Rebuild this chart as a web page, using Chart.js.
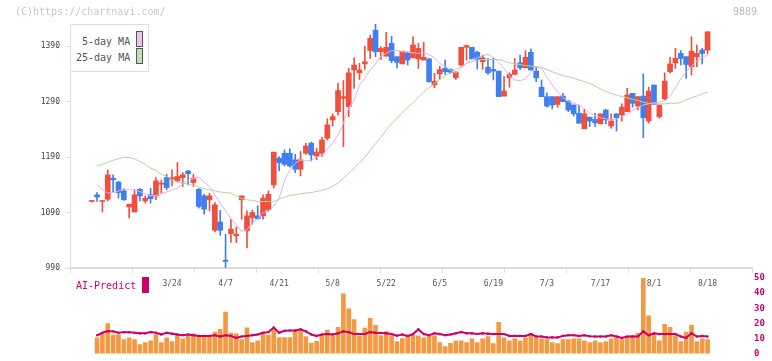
<!DOCTYPE html>
<html><head><meta charset="utf-8">
<script src="https://cdn.jsdelivr.net/npm/chart.js@4.4.1/dist/chart.umd.min.js"></script>
<style>
html,body{margin:0;padding:0;background:#fff;width:772px;height:361px;overflow:hidden;}
body{position:relative;font-family:'DejaVu Sans Mono',monospace;}
canvas{position:absolute;left:0;}
#main{top:0;}
#vol{top:270px;}
.t{position:absolute;white-space:nowrap;line-height:10px;font-size:10px;}
.sw{position:absolute;width:5px;height:14px;border:1px solid #555;}
</style></head><body>
<canvas id="vol" width="772" height="91"></canvas>
<canvas id="main" width="772" height="300"></canvas>
<div class="t" style="left:15px;top:7px;color:#c8c8c8">(C)https://chartnavi.com/</div>
<div class="t" style="left:733px;top:7px;color:#bbb">9889</div>
<div style="position:absolute;left:70px;top:24px;width:77px;height:46px;border:1px solid #ddd;background:#fff"></div>
<div class="t" style="left:82px;top:37px;color:#555">5-day MA</div>
<div class="sw" style="left:136px;top:31px;background:#f0c0f0"></div>
<div class="t" style="left:76px;top:53px;color:#555">25-day MA</div>
<div class="sw" style="left:136px;top:48px;background:#c0e0b0"></div>
<div class="t" style="left:76px;top:281px;color:#cc0066;font-size:10px">AI-Predict</div>
<div style="position:absolute;left:142px;top:277px;width:7px;height:16px;background:#cc0066"></div>
<script>
const dates = ['2/28','3/3','3/4','3/5','3/6','3/7','3/10','3/11','3/12','3/13','3/14','3/17','3/18','3/19','3/21',
'3/24','3/25','3/26','3/27','3/28','3/31','4/1','4/2','4/3','4/4','4/7','4/8','4/9','4/10','4/11','4/14','4/15','4/16','4/17','4/18',
'4/21','4/22','4/23','4/24','4/25','4/28','4/30','5/1','5/2','5/7','5/8','5/9','5/12','5/13','5/14','5/15','5/16','5/19','5/20','5/21',
'5/22','5/23','5/26','5/27','5/28','5/29','5/30','6/2','6/3','6/4','6/5','6/6','6/9','6/10','6/11','6/12','6/13','6/16','6/17','6/18',
'6/19','6/20','6/23','6/24','6/25','6/26','6/27','6/30','7/1','7/2','7/3','7/4','7/7','7/8','7/9','7/10','7/11','7/14','7/15','7/16',
'7/17','7/18','7/22','7/23','7/24','7/25','7/28','7/29','7/30','7/31','8/1','8/4','8/5','8/6','8/7','8/8','8/12','8/13','8/14','8/15','8/18'];

const open  = [1110,1122,1110,1114,1152,1145,1129,1100,1091,1132,1111,1122,1120,1141,1153,1150,1147,1153,1165,1144,
1132,1120,1113,1058,1073,1004,1052,1048,1113,1057,1081,1084,1084,1095,1140,1188,1197,1197,1185,1168,
1197,1215,1192,1197,1224,1257,1272,1296,1281,1347,1342,1358,1382,1419,1380,1372,1395,1371,1358,1379,
1369,1367,1365,1367,1320,1340,1350,1348,1333,1356,1388,1388,1379,1362,1352,1348,1345,1300,1333,1339,
1360,1351,1379,1345,1316,1299,1299,1285,1300,1291,1284,1269,1241,1262,1258,1250,1275,1246,1268,1266,
1272,1305,1282,1300,1255,1320,1263,1295,1344,1360,1377,1371,1353,1371,1383,1383];
const high  = [1111,1126,1111,1167,1158,1146,1133,1105,1131,1133,1120,1134,1153,1149,1159,1167,1180,1162,1166,1159,
1133,1123,1125,1108,1094,1051,1078,1064,1120,1093,1094,1102,1122,1129,1199,1191,1203,1205,1195,1200,
1215,1217,1206,1226,1259,1268,1323,1328,1350,1369,1359,1390,1410,1430,1389,1415,1408,1371,1381,1380,
1407,1395,1397,1368,1341,1354,1365,1349,1344,1388,1392,1388,1381,1374,1368,1368,1345,1335,1342,1368,
1374,1382,1385,1353,1329,1306,1299,1299,1305,1292,1284,1284,1276,1262,1269,1268,1276,1268,1268,1286,
1314,1305,1299,1340,1316,1320,1284,1342,1370,1386,1382,1371,1407,1392,1386,1416];
const low   = [1109,1110,1091,1111,1127,1116,1112,1080,1091,1111,1107,1107,1113,1125,1131,1138,1145,1137,1140,1137,
1098,1087,1093,1055,1049,991,1036,1036,1078,1026,1069,1078,1078,1092,1134,1165,1174,1172,1162,1156,
1195,1183,1185,1191,1221,1246,1266,1209,1263,1314,1330,1348,1368,1371,1366,1372,1360,1351,1358,1356,
1369,1350,1365,1325,1315,1330,1339,1341,1330,1353,1365,1367,1349,1348,1339,1329,1299,1300,1316,1339,
1348,1351,1347,1326,1299,1280,1277,1280,1290,1272,1264,1251,1241,1245,1245,1250,1250,1242,1237,1255,
1272,1280,1275,1225,1251,1285,1260,1293,1342,1350,1356,1332,1338,1353,1358,1376];
const close = [1111,1118,1111,1158,1149,1126,1113,1105,1122,1120,1116,1115,1147,1143,1135,1153,1155,1158,1160,1152,
1101,1096,1120,1104,1058,1002,1060,1051,1120,1084,1090,1079,1116,1123,1199,1180,1177,1174,1168,1185,
1210,1194,1199,1221,1248,1263,1310,1299,1342,1356,1347,1362,1404,1380,1386,1388,1364,1361,1381,1365,
1392,1386,1370,1326,1327,1348,1344,1343,1343,1388,1391,1367,1366,1369,1342,1345,1299,1309,1339,1347,
1351,1370,1347,1333,1299,1282,1284,1299,1290,1275,1268,1251,1268,1255,1252,1268,1257,1255,1261,1280,
1302,1287,1299,1261,1309,1285,1284,1327,1358,1368,1368,1357,1381,1377,1377,1416];

const ma5  = [null,1141,1131,1125,1126,1129,1132,1131,1131,1128,1124,1120,1121,1124,1127,1131,1134,1141,1148,1151,1154,
1145,1137,1122,1107,1093,1079,1068,1056,1059,1071,1079,1090,1093,1101,1116,1147,1167,1179,1185,1183,
1184,1190,1193,1204,1216,1230,1251,1278,1293,1320,1332,1347,1358,1372,1377,1382,1382,1380,1379,1378,
1377,1378,1375,1369,1359,1353,1347,1341,1350,1359,1366,1369,1373,1375,1370,1361,1350,1336,1329,1328,
1331,1343,1352,1350,1334,1320,1307,1298,1290,1287,1284,1277,1269,1265,1261,1259,1257,1259,1262,1268,
1274,1279,1284,1286,1288,1289,1291,1300,1315,1331,1344,1354,1363,1370,1374];
const ma25 = [null,1174,1177,1181,1184,1187,1190,1189,1187,1182,1177,1170,1166,1159,1155,1150,1145,1143,1141,1139,1136,
1133,1131,1129,1127,1126,1125,1120,1115,1113,1112,1110,1110,1110,1110,1114,1118,1121,1122,1124,1125,
1126,1128,1130,1133,1137,1143,1152,1161,1170,1180,1190,1202,1214,1226,1239,1250,1260,1270,1280,1288,
1298,1308,1315,1323,1330,1336,1342,1348,1353,1359,1362,1365,1366,1366,1366,1366,1363,1360,1358,1357,
1355,1354,1353,1352,1348,1344,1340,1337,1335,1332,1329,1326,1323,1318,1313,1308,1305,1302,1299,1297,
1294,1292,1289,1287,1286,1286,1286,1287,1287,1288,1293,1297,1300,1304,1307];

const volume = [null,10.4,12.8,19.9,12.3,12.5,9.2,10.4,9.2,6,7.3,8.5,12.5,7.3,10.4,7.9,12.5,9.8,11.7,13,11.1,
11.7,11.3,14.2,16.1,27.5,13.6,13,9.2,17,7.3,8.5,14.2,12.3,16.1,10.6,10.6,10.6,15.3,15.5,11.3,
6.8,8.1,11.7,15.5,11.7,17.4,39.6,29.6,22.5,11.7,16.8,23.3,18.7,12,14.5,12,7.9,10,11.7,12.1,
11.7,10.4,11.7,11.7,7.3,4.7,6.8,8.5,8.5,7.3,9.8,7.3,9.8,11.3,6.6,20.6,10.4,8.5,9.8,8.5,
10.4,13.4,10.4,9.8,9.2,7.3,6.6,9.2,9.2,9.8,9.8,8.5,7.3,8.5,7.3,7.9,9.8,10.4,9.2,10.4,
11.7,13.4,50.3,25,13,8.5,19.3,17.4,11.7,7.9,14.2,18.7,7.9,9.8,9.2];
const aiPredict = [null,12.1,13.8,14.9,14.7,13.8,14.2,14.2,13.8,13.4,13.4,14.2,13.8,12.6,13.8,13.2,12.6,12.1,12.6,12.1,11.7,
11.7,11.7,12.1,11.3,12.1,11.7,10.4,11.3,11.7,12.1,12.6,13.8,14.2,17.2,13.8,15.1,15.3,15.3,16.1,14.7,
12.6,11.7,12.6,13,12.6,13.4,14.7,14.2,13,13,13,14.2,13.8,13.7,13.4,13,11.9,12.6,11.7,12.9,
16,12.9,12.1,13.4,12.9,12.1,12.6,13.4,14.2,13.4,13.4,13,13.4,13.2,12.9,13,13,11.7,11.7,11.7,
11.7,12.9,11.3,11.3,10.7,10.7,10.7,11.7,12.1,12.1,11.7,12.1,11.5,11.3,11.3,11.3,12.1,11.3,10.4,11.3,
11.3,11.3,14.7,12.1,13.4,12.9,12.9,12.9,12.9,11.3,10.4,13.4,11.3,11.7,11.3];

const priceTicks  = [990,1090,1190,1290,1390];
const volumeTicks = [0,10,20,30,40,50];
const dateTickLabels = ['3/24','4/7','4/21','5/8','5/22','6/5','6/19','7/3','7/17','8/1','8/18'];

const RED = '#f04f3d', BLUE = '#3f7ff0';
const FONT = 'DejaVu Sans Mono';
const X_MIN = -4.05, X_MAX = 123.3;
const candleColors = close.map((c,i) => c >= open[i] ? RED : BLUE);

new Chart(document.getElementById('main'), {
  data: {
    datasets: [
      { type:'line', label:'5-day MA', data: ma5.map((v,i)=>({x:i,y:v})), borderColor:'#e4aef0', borderWidth:1,
        pointRadius:0, tension:0, order:0 },
      { type:'line', label:'25-day MA', data: ma25.map((v,i)=>({x:i,y:v})), borderColor:'#acd89c', borderWidth:1,
        pointRadius:0, tension:0, order:0 },
      { type:'bar', label:'body', data: dates.map((d,i)=>({x:i,y:[open[i],close[i]]})), backgroundColor:candleColors,
        barThickness:5, minBarLength:1, grouped:false, order:1 },
      { type:'bar', label:'wick', data: dates.map((d,i)=>({x:i,y:[low[i],high[i]]})), backgroundColor:candleColors,
        barThickness:1, grouped:false, order:2 }
    ]
  },
  options: {
    responsive:false, animation:false, devicePixelRatio:1,
    layout:{ padding:{ left:0, top:24, right:20, bottom:2 } },
    plugins:{ legend:{display:false}, tooltip:{enabled:false} },
    scales: {
      x: { type:'linear', min:X_MIN, max:X_MAX, offset:false, position:'bottom',
        afterBuildTicks: s => { const n=11, st=(s.max-s.min)/n; s.ticks = Array.from({length:n+1},(_,k)=>({value:s.min+k*st})); },
        ticks:{ display:false },
        grid:{ display:true, offset:false, drawOnChartArea:false, drawTicks:true, tickLength:5, color:'#dddddd', lineWidth:1 },
        border:{ display:true, color:'#dddddd', width:2 },
        afterFit: s => { s.height = 10; } },
      x2: { type:'linear', min:X_MIN, max:X_MAX, offset:false, position:'bottom',
        afterBuildTicks: s => { s.ticks = dateTickLabels.map(l => ({ value: dates.indexOf(l) })); },
        ticks:{ autoSkip:false, maxRotation:0, padding:1, color:'#555', font:{ family:FONT, size:8 },
          callback: v => dates[v] },
        grid:{ display:false, drawTicks:false, offset:false }, border:{ display:false },
        afterFit: s => { s.height = 20; } },
      y: { type:'linear', min:990, max:1430, position:'left',
        afterBuildTicks: s => { s.ticks = priceTicks.map(v => ({ value:v })); },
        ticks:{ padding:5, color:'#444', font:{ family:FONT, size:8 }, callback: v => String(v) },
        grid:{ drawOnChartArea:false, tickLength:5, color:'#dddddd' },
        border:{ display:true, color:'#dddddd', width:1 },
        afterFit: s => { s.width = 70; } }
    }
  }
});

new Chart(document.getElementById('vol'), {
  data: {
    datasets: [
      { type:'line', label:'AI-Predict', data: aiPredict.map((v,i)=>({x:i,y:v})), borderColor:'#cc0066', borderWidth:2,
        pointStyle:'rect', pointRadius:1.5, pointBackgroundColor:'#cc0066', pointBorderWidth:0, tension:0, order:0 },
      { type:'bar', label:'volume', data: volume.map((v,i)=>({x:i,y:v})), backgroundColor:'#f29a43',
        barThickness:4, grouped:false, order:1 }
    ]
  },
  options: {
    responsive:false, animation:false, devicePixelRatio:1,
    layout:{ padding:{ left:70, top:8, right:0, bottom:3 } },
    plugins:{ legend:{display:false}, tooltip:{enabled:false} },
    scales: {
      x: { type:'linear', min:X_MIN, max:X_MAX, offset:false, display:false },
      y: { type:'linear', min:0, max:50, position:'right',
        afterBuildTicks: s => { s.ticks = volumeTicks.map(v => ({ value:v })); },
        ticks:{ padding:2, color:'#cc0066', font:{ family:FONT, size:9, weight:'bold' }, callback: v => String(v) },
        grid:{ display:false, drawTicks:false }, border:{ display:false },
        afterFit: s => { s.width = 20; } }
    }
  }
});
</script>
</body></html>
